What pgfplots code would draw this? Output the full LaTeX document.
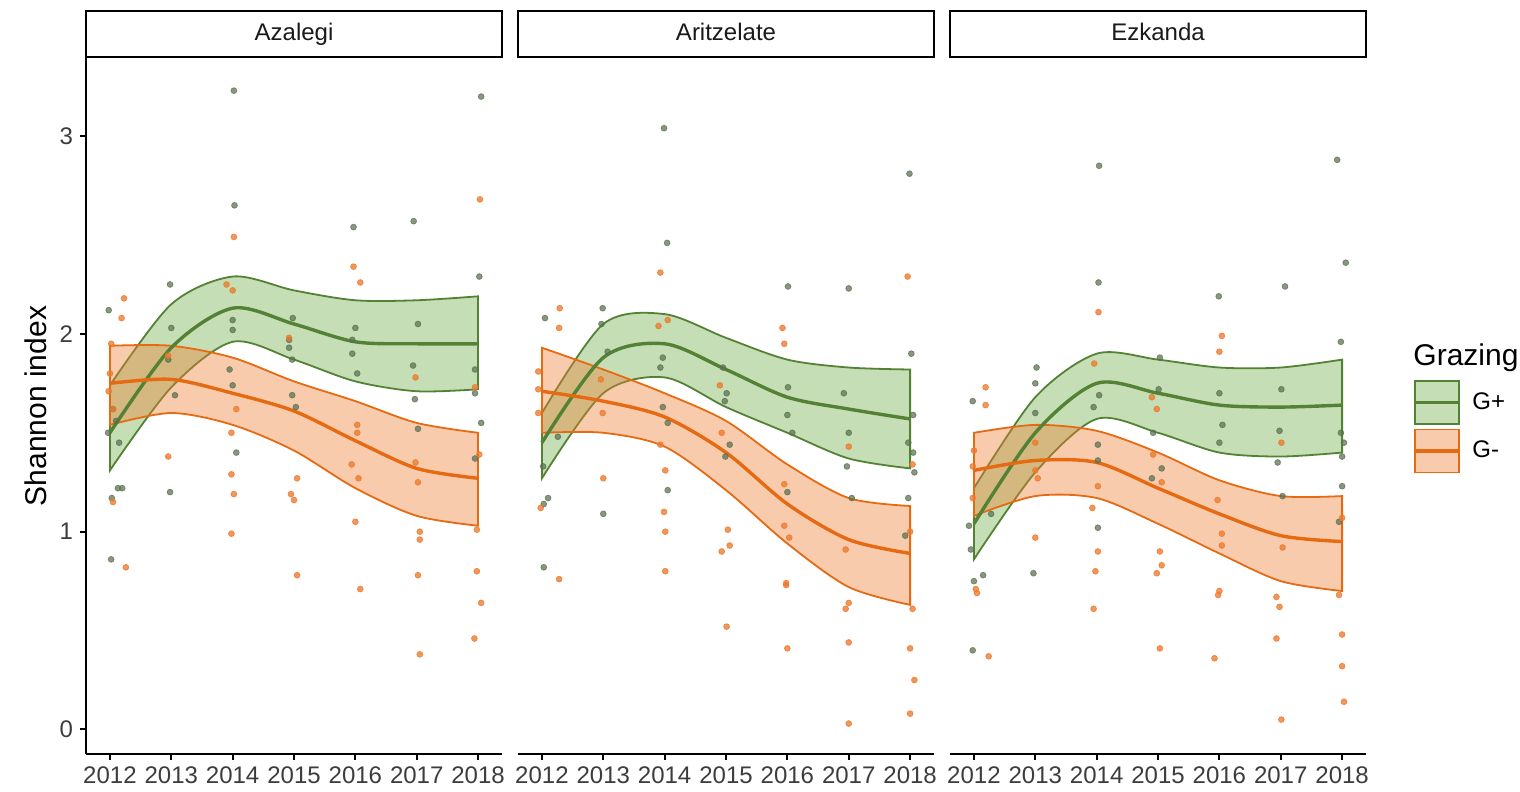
\documentclass[border=0pt]{standalone}
\usepackage{fontspec}
\setmainfont{Liberation Sans}
\usepackage{pgfplots}
\pgfplotsset{compat=1.18}
\usepgfplotslibrary{fillbetween}

\definecolor{gline}{RGB}{84,130,53}
\definecolor{gfill}{RGB}{112,173,71}
\definecolor{oline}{RGB}{230,106,18}
\definecolor{ofill}{RGB}{237,125,49}
\definecolor{gpt}{RGB}{90,112,78}
\definecolor{opt}{RGB}{236,122,45}
\definecolor{tickgray}{RGB}{60,60,60}
\definecolor{stripgray}{RGB}{26,26,26}

\pgfplotsset{
  every axis title shift=0pt,
  facet/.style={
    scale only axis, width=208pt, height=348pt,
    xmin=2011.61, xmax=2018.39, ymin=-0.124, ymax=3.395,
    axis x line*=bottom,
    axis line style={-, black, line width=1pt},
    every outer x axis line/.append style={-},
    every outer y axis line/.append style={-},
    xtick={2012,2013,2014,2015,2016,2017,2018},
    tick align=outside,
    major tick length=3pt,
    tick style={black, line width=1pt},
    ticklabel style={font=\fontsize{12}{14}\selectfont, text=tickgray},
    /pgf/number format/.cd, 1000 sep={}, assume math mode=true, /pgfplots/.cd,
    title style={at={(axis description cs:0.5,1)}, anchor=south, yshift=0pt, draw=black, line width=1pt, fill=white,
      minimum width=208pt, minimum height=23pt, inner sep=0pt, text height=8.6pt, text depth=2.4pt,
      font=\fontsize{12}{14}\selectfont, text=stripgray},
  },
  gpts/.style={only marks, mark=*, mark size=1.45pt, color=gpt, opacity=0.72, forget plot},
  opts/.style={only marks, mark=*, mark size=1.45pt, color=opt, opacity=0.78, forget plot},
  edge/.style={draw=none, smooth, forget plot},
  gband/.style={fill=gfill, fill opacity=0.4, draw=gline, line width=0.9pt, forget plot},
  oband/.style={fill=ofill, fill opacity=0.4, draw=oline, line width=0.9pt, forget plot},
  gmean/.style={gline, line width=1.7pt, smooth, forget plot},
  omean/.style={oline, line width=1.7pt, smooth, forget plot},
}

\begin{document}
\begin{tikzpicture}
\path (0,0) rectangle (760pt,396pt);

% ---------------- Panel 1: Azalegi ----------------
\begin{axis}[facet, at={(43pt,19pt)}, anchor=south west,
  axis y line*=left, ytick={0,1,2,3},
  title={Azalegi},
  ylabel={Shannon index},
  every axis y label/.style={at={(axis description cs:-0.12,0.5)}, rotate=90, anchor=center, font=\fontsize{15}{18}\selectfont},
]
\addplot[gpts] coordinates {
(2014.02,3.23)(2018.05,3.20)(2014.03,2.65)(2016.95,2.57)(2015.97,2.54)(2018.02,2.29)(2012.98,2.25)(2011.98,2.12)
(2014.0,2.07)(2014.98,2.08)(2017.02,2.05)(2016.0,2.03)(2014.0,2.02)(2013.0,2.03)(2014.92,1.97)(2014.92,1.93)
(2015.95,1.97)(2015.95,1.90)(2016.03,1.80)(2016.94,1.84)(2016.97,1.67)(2017.95,1.82)(2017.95,1.70)(2014.97,1.87)
(2012.95,1.87)(2013.06,1.69)(2014.0,1.74)(2013.95,1.82)(2014.97,1.69)(2015.03,1.63)
(2012.02,0.86)(2012.98,1.20)(2012.2,1.22)(2012.13,1.22)(2012.03,1.17)(2011.97,1.50)(2012.15,1.45)(2014.06,1.40)
(2017.02,1.52)(2018.05,1.55)(2017.95,1.37)(2012.05,1.62)(2012.1,1.56)};
\addplot[opts] coordinates {
(2018.03,2.68)(2014.02,2.49)(2015.97,2.34)(2016.08,2.26)(2012.23,2.18)(2012.19,2.08)(2013.9,2.25)(2014.0,2.22)
(2012.02,1.95)(2012.95,1.89)(2014.92,1.98)(2016.98,1.78)(2017.95,1.73)(2014.06,1.62)(2011.98,1.71)(2012.0,1.80)
(2012.05,1.62)(2012.26,0.82)(2012.95,1.38)(2012.05,1.15)(2013.98,1.50)(2013.98,1.29)(2014.02,1.19)(2013.98,0.99)
(2015.05,1.27)(2014.95,1.19)(2015.0,1.16)(2015.05,0.78)(2016.03,1.54)(2016.03,1.50)(2015.94,1.34)(2016.05,1.27)
(2016.0,1.05)(2016.08,0.71)(2016.98,1.35)(2017.02,1.25)(2017.05,1.00)(2017.05,0.96)(2017.02,0.78)(2017.05,0.38)
(2018.02,1.39)(2017.98,1.01)(2017.98,0.80)(2018.05,0.64)(2017.94,0.46)};
\addplot[edge, name path=aGu] coordinates {(2012,1.74)(2013,2.15)(2014,2.29)(2015,2.22)(2016,2.17)(2017,2.17)(2018,2.19)};
\addplot[edge, name path=aGl] coordinates {(2012,1.31)(2013,1.73)(2014,1.96)(2015,1.87)(2016,1.76)(2017,1.71)(2018,1.72)};
\addplot[gband] fill between[of=aGu and aGl];
\addplot[gmean] coordinates {(2012,1.50)(2013,1.93)(2014,2.13)(2015,2.05)(2016,1.96)(2017,1.95)(2018,1.95)};
\addplot[edge, name path=aOu] coordinates {(2012,1.94)(2013,1.94)(2014,1.88)(2015,1.76)(2016,1.66)(2017,1.55)(2018,1.50)};
\addplot[edge, name path=aOl] coordinates {(2012,1.54)(2013,1.60)(2014,1.54)(2015,1.41)(2016,1.22)(2017,1.08)(2018,1.03)};
\addplot[oband] fill between[of=aOu and aOl];
\addplot[omean] coordinates {(2012,1.75)(2013,1.77)(2014,1.70)(2015,1.61)(2016,1.46)(2017,1.32)(2018,1.27)};
\end{axis}

% ---------------- Panel 2: Aritzelate ----------------
\begin{axis}[facet, at={(259pt,19pt)}, anchor=south west,
  axis y line=none, ytick=\empty,
  title={Aritzelate},
]
\addplot[gpts] coordinates {
(2013.99,3.04)(2017.99,2.81)(2014.04,2.46)(2016.01,2.24)(2017.0,2.23)(2012.99,2.13)(2012.05,2.08)(2018.02,1.90)
(2013.97,1.88)(2013.93,1.83)(2014.95,1.83)(2016.01,1.73)(2016.92,1.70)(2013.97,1.63)(2015.01,1.70)(2013.07,1.91)
(2012.97,2.05)(2018.05,1.59)(2014.98,1.66)
(2012.03,0.82)(2012.1,1.17)(2012.03,1.14)(2012.02,1.33)(2012.26,1.48)(2013.0,1.09)(2014.05,1.55)(2014.05,1.21)
(2015.06,1.44)(2014.99,1.38)(2016.08,1.50)(2016.0,1.59)(2016.0,1.20)(2017.0,1.50)(2016.97,1.33)(2017.05,1.17)
(2017.97,1.45)(2018.05,1.40)(2018.07,1.30)(2017.97,1.17)(2017.92,0.98)};
\addplot[opts] coordinates {
(2017.96,2.29)(2013.93,2.31)(2012.29,2.13)(2012.28,2.03)(2015.92,2.03)(2015.95,1.95)(2013.9,2.04)(2014.05,2.07)
(2014.9,1.74)(2012.96,1.77)(2011.94,1.81)(2011.94,1.72)(2011.94,1.60)
(2012.28,0.76)(2011.98,1.12)(2013.0,1.27)(2012.99,1.60)(2013.93,1.44)(2014.01,1.31)(2013.99,1.10)(2014.01,1.00)
(2014.01,0.80)(2014.93,1.50)(2015.03,1.01)(2015.06,0.93)(2014.93,0.90)(2015.01,0.52)(2015.95,1.24)(2015.95,1.03)
(2016.03,0.97)(2015.98,0.74)(2015.98,0.73)(2016.0,0.41)(2017.0,1.43)(2016.95,0.91)(2017.0,0.64)(2016.95,0.61)
(2017.0,0.44)(2017.0,0.03)(2018.04,1.34)(2018.0,1.00)(2018.04,0.61)(2018.0,0.41)(2018.07,0.25)(2018.0,0.08)};
\addplot[edge, name path=bGu] coordinates {(2012,1.60)(2013,2.05)(2014,2.10)(2015,1.98)(2016,1.87)(2017,1.83)(2018,1.82)};
\addplot[edge, name path=bGl] coordinates {(2012,1.27)(2013,1.70)(2014,1.78)(2015,1.63)(2016,1.50)(2017,1.37)(2018,1.32)};
\addplot[gband] fill between[of=bGu and bGl];
\addplot[gmean] coordinates {(2012,1.45)(2013,1.88)(2014,1.95)(2015,1.82)(2016,1.68)(2017,1.62)(2018,1.57)};
\addplot[edge, name path=bOu] coordinates {(2012,1.93)(2013,1.82)(2014,1.70)(2015,1.56)(2016,1.34)(2017,1.17)(2018,1.13)};
\addplot[edge, name path=bOl] coordinates {(2012,1.50)(2013,1.50)(2014,1.43)(2015,1.21)(2016,0.94)(2017,0.72)(2018,0.63)};
\addplot[oband] fill between[of=bOu and bOl];
\addplot[omean] coordinates {(2012,1.71)(2013,1.66)(2014,1.58)(2015,1.40)(2016,1.14)(2017,0.96)(2018,0.89)};
\end{axis}

% ---------------- Panel 3: Ezkanda ----------------
\begin{axis}[facet, at={(475pt,19pt)}, anchor=south west,
  axis y line=none, ytick=\empty,
  title={Ezkanda},
  legend style={at={(1.113,0.5375)}, anchor=north west, draw=none, fill=none, inner sep=0pt, outer sep=0pt,
    row sep=2pt, column sep=6pt, font=\fontsize{12}{14}\selectfont, nodes={inner sep=0pt}},
  legend cell align=left,
  extra description/.code={
    \node[anchor=north west, inner sep=0pt, font=\fontsize{15}{18}\selectfont] at (1.113,0.5905) {Grazing};
  },
]
\addplot[gpts] coordinates {
(2014.04,2.85)(2017.92,2.88)(2018.06,2.36)(2014.03,2.26)(2017.07,2.24)(2015.99,2.19)(2017.98,1.96)(2013.02,1.83)
(2011.98,1.66)(2015.03,1.88)(2017.01,1.72)(2016.0,1.70)(2015.01,1.72)(2014.04,1.69)(2013.95,1.63)(2013.0,1.75)
(2013.0,1.60)
(2011.98,0.40)(2012.0,0.75)(2012.15,0.78)(2011.92,1.03)(2011.95,0.91)(2012.28,1.09)(2012.97,0.79)(2014.02,1.44)
(2014.02,1.36)(2014.02,1.02)(2014.92,1.50)(2015.06,1.32)(2014.9,1.27)(2016.0,1.45)(2016.05,1.54)(2016.98,1.51)
(2016.95,1.35)(2017.03,1.18)(2017.98,1.50)(2018.03,1.45)(2018.0,1.38)(2018.0,1.23)(2017.95,1.05)};
\addplot[opts] coordinates {
(2014.03,2.11)(2016.04,1.99)(2016.0,1.91)(2012.19,1.73)(2012.19,1.64)(2013.96,1.85)(2014.9,1.68)(2014.98,1.62)
(2012.24,0.37)(2012.03,0.71)(2012.05,0.69)(2011.98,1.17)(2011.98,1.33)(2012.0,1.41)(2013.0,0.97)(2013.04,1.27)
(2013.0,1.31)(2013.0,1.45)(2014.02,1.23)(2013.93,1.12)(2014.02,0.90)(2013.98,0.80)(2013.95,0.61)(2014.92,1.39)
(2015.06,1.25)(2015.03,0.90)(2015.06,0.83)(2014.98,0.79)(2015.03,0.41)(2015.97,1.16)(2016.04,0.99)(2016.04,0.93)
(2016.0,0.70)(2015.98,0.68)(2015.92,0.36)(2017.01,1.45)(2017.03,0.92)(2016.93,0.67)(2016.98,0.62)(2016.93,0.46)
(2017.01,0.05)(2018.0,1.07)(2017.95,0.68)(2018.0,0.48)(2018.0,0.32)(2018.03,0.14)};
\addplot[edge, name path=cGu] coordinates {(2012,1.22)(2013,1.68)(2014,1.90)(2015,1.87)(2016,1.83)(2017,1.83)(2018,1.87)};
\addplot[edge, name path=cGl] coordinates {(2012,0.86)(2013,1.30)(2014,1.57)(2015,1.50)(2016,1.40)(2017,1.38)(2018,1.40)};
\addplot[gband] fill between[of=cGu and cGl];
\addplot[gmean] coordinates {(2012,1.04)(2013,1.50)(2014,1.75)(2015,1.70)(2016,1.64)(2017,1.63)(2018,1.64)};
\addplot[edge, name path=cOu] coordinates {(2012,1.50)(2013,1.54)(2014,1.51)(2015,1.40)(2016,1.26)(2017,1.18)(2018,1.18)};
\addplot[edge, name path=cOl] coordinates {(2012,1.08)(2013,1.18)(2014,1.17)(2015,1.04)(2016,0.89)(2017,0.75)(2018,0.70)};
\addplot[oband] fill between[of=cOu and cOl];
\addplot[omean] coordinates {(2012,1.31)(2013,1.36)(2014,1.35)(2015,1.22)(2016,1.09)(2017,0.98)(2018,0.95)};

\addlegendimage{legend image code/.code={
  \fill[gfill, fill opacity=0.4] (0pt,-10.75pt) rectangle (22pt,10.75pt);
  \draw[gline, line width=0.9pt] (0pt,-10.75pt) rectangle (22pt,10.75pt);
  \draw[gline, line width=1.7pt] (0pt,0pt) -- (22pt,0pt);}}
\addlegendentry{G+}
\addlegendimage{legend image code/.code={
  \fill[ofill, fill opacity=0.4] (0pt,-10.75pt) rectangle (22pt,10.75pt);
  \draw[oline, line width=0.9pt] (0pt,-10.75pt) rectangle (22pt,10.75pt);
  \draw[oline, line width=1.7pt] (0pt,0pt) -- (22pt,0pt);}}
\addlegendentry{G-}
\end{axis}
\end{tikzpicture}
\end{document}
